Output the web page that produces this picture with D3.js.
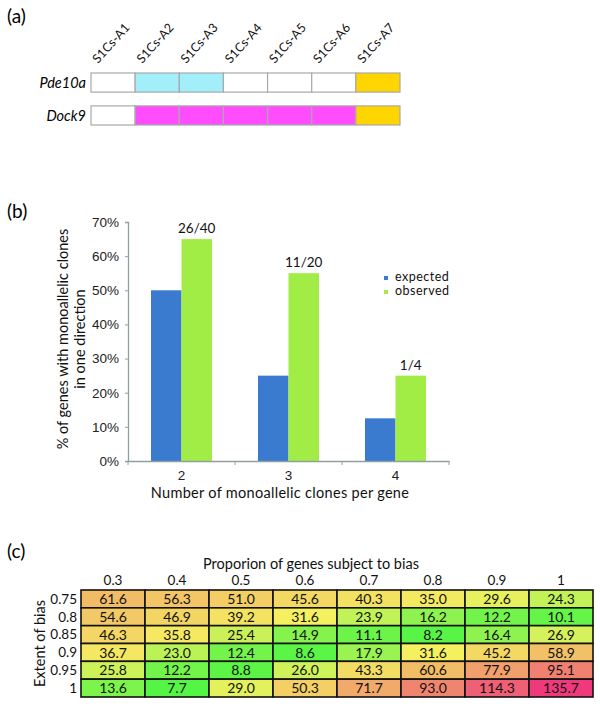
<!DOCTYPE html>
<html><head><meta charset="utf-8">
<script src="https://cdn.jsdelivr.net/npm/d3@7/dist/d3.min.js"></script>
<style>
html,body{margin:0;padding:0;background:#fff;}
svg{display:block;font-family:Lato,"Open Sans",sans-serif;}
</style></head><body>
<svg id="c" width="600" height="706"></svg>
<script>
// ---------- Panel (a) data ----------
const clones = ["S1Cs-A1","S1Cs-A2","S1Cs-A3","S1Cs-A4","S1Cs-A5","S1Cs-A6","S1Cs-A7"];
const genes = ["Pde10a","Dock9"];
const pde10aStates = ["none","cyan","cyan","none","none","none","gold"];
const dock9States  = ["none","magenta","magenta","magenta","magenta","magenta","gold"];
// ---------- Panel (b) data ----------
const cloneCounts = ["2","3","4"];
const seriesNames = ["expected","observed"];
const expectedVals = [0.50,0.25,0.125];
const observedVals = [0.65,0.55,0.25];
const observedLabels = ["26/40","11/20","1/4"];
const yTicks = [0,0.1,0.2,0.3,0.4,0.5,0.6,0.7];
// ---------- Panel (c) data ----------
const proportions = ["0.3","0.4","0.5","0.6","0.7","0.8","0.9","1"];
const extents = ["0.75","0.8","0.85","0.9","0.95","1"];
const heatValues = [
  [61.6,56.3,51.0,45.6,40.3,35.0,29.6,24.3],
  [54.6,46.9,39.2,31.6,23.9,16.2,12.2,10.1],
  [46.3,35.8,25.4,14.9,11.1,8.2,16.4,26.9],
  [36.7,23.0,12.4,8.6,17.9,31.6,45.2,58.9],
  [25.8,12.2,8.8,26.0,43.3,60.6,77.9,95.1],
  [13.6,7.7,29.0,50.3,71.7,93.0,114.3,135.7]
];

const svg = d3.select("#c");
const stateColor = {none:"#ffffff", cyan:"#a2eef9", magenta:"#ff4cff", gold:"#ffd500"};

// ===== Panel (a) =====
svg.append("text").attr("x",7).attr("y",23).attr("font-size",19).text("(a)");
const ax = d3.scaleBand().domain(clones).range([91,400]);
const ay = d3.scaleBand().domain(genes).range([73,125]).paddingInner(0.42);
const stateRows = [pde10aStates, dock9States];
genes.forEach((g,gi)=>{
  const grp = svg.append("g");
  grp.selectAll("rect").data(stateRows[gi]).join("rect")
    .attr("x",(d,i)=>ax(clones[i])).attr("y",ay(g))
    .attr("width",ax.bandwidth()).attr("height",ay.bandwidth())
    .attr("fill",d=>stateColor[d]).attr("stroke","#a9a9a9").attr("stroke-width",1.2);
  svg.append("text").attr("x",86).attr("y",ay(g)+ay.bandwidth()/2)
    .attr("dy","0.36em").attr("text-anchor","end").attr("font-style","italic")
    .attr("font-size",14.5).text(g);
});
svg.append("g").selectAll("text").data(clones).join("text")
  .attr("transform",d=>`translate(${ax(d)+ax.bandwidth()/2-15},64) rotate(-48)`)
  .attr("font-size",12.5).attr("fill","#111").text(d=>d);

// ===== Panel (b) =====
svg.append("text").attr("x",7).attr("y",218).attr("font-size",19).text("(b)");
const y = d3.scaleLinear().domain([0,0.7]).range([461,222]);
const x0 = d3.scaleBand().domain(cloneCounts).range([128,449]);
const x1 = d3.scaleBand().domain(seriesNames).range([x0.bandwidth()*0.215, x0.bandwidth()*0.785]);
const axisCol = "#8fa0a0";
const seriesColor = {expected:"#3a7bd0", observed:"#a2ec46"};

const yAxis = svg.append("g").attr("transform","translate(128,0)")
  .call(d3.axisLeft(y).tickValues(yTicks).tickFormat(d3.format(".0%")).tickSize(3).tickPadding(6));
yAxis.select(".domain").attr("stroke",axisCol).attr("stroke-width",1.3);
yAxis.selectAll(".tick line").attr("stroke",axisCol);
yAxis.selectAll("text").attr("font-size",13.5).attr("fill","#222").attr("font-family","inherit");

const groups = svg.append("g").selectAll("g").data(cloneCounts).join("g")
  .attr("transform",d=>`translate(${x0(d)},0)`);
groups.selectAll("rect").data((d,i)=>[
    {s:"expected",v:expectedVals[i]},{s:"observed",v:observedVals[i]}])
  .join("rect")
  .attr("x",d=>x1(d.s)).attr("width",x1.bandwidth())
  .attr("y",d=>y(d.v)).attr("height",d=>y(0)-y(d.v))
  .attr("fill",d=>seriesColor[d.s]);
groups.append("text")
  .attr("x",x1("observed")+x1.bandwidth()/2)
  .attr("y",(d,i)=>y(observedVals[i])-6)
  .attr("text-anchor","middle").attr("font-size",13.5).attr("fill","#111")
  .text((d,i)=>observedLabels[i]);

const xAxis = svg.append("g").attr("transform",`translate(0,${y(0)})`)
  .call(d3.axisBottom(x0).tickSize(0).tickPadding(9));
xAxis.select(".domain").attr("stroke",axisCol).attr("stroke-width",1.3);
xAxis.selectAll("text").attr("font-size",13.5).attr("fill","#222").attr("font-family","inherit");
// category boundary ticks
svg.append("g").selectAll("line").data(cloneCounts.concat(["end"])).join("line")
  .attr("x1",(d,i)=> i<cloneCounts.length ? x0(d) : x0(cloneCounts[cloneCounts.length-1])+x0.bandwidth())
  .attr("x2",(d,i)=> i<cloneCounts.length ? x0(d) : x0(cloneCounts[cloneCounts.length-1])+x0.bandwidth())
  .attr("y1",y(0)).attr("y2",y(0)+4).attr("stroke",axisCol);

svg.append("text").attr("x",280).attr("y",498).attr("text-anchor","middle")
  .attr("font-size",14.5).attr("fill","#111").attr("letter-spacing",0.3)
  .text("Number of monoallelic clones per gene");
const yt = svg.append("text").attr("transform","translate(0,339) rotate(-90)")
  .attr("text-anchor","middle").attr("font-size",14.5).attr("fill","#111");
yt.append("tspan").attr("x",0).attr("y",68).text("% of genes with monoallelic clones");
yt.append("tspan").attr("x",0).attr("y",85).text("in one direction");

// legend
const lg = svg.append("g").selectAll("g").data(seriesNames).join("g")
  .attr("transform",(d,i)=>`translate(384,${277+i*14})`);
lg.append("rect").attr("x",0).attr("y",-1).attr("width",4).attr("height",4).attr("fill",d=>seriesColor[d]);
lg.append("text").attr("x",11).attr("y",0).attr("dy","0.35em").attr("font-size",12.5)
  .attr("fill","#111").attr("letter-spacing",0.5).text(d=>d);

// ===== Panel (c) =====
svg.append("text").attr("x",7).attr("y",558).attr("font-size",19).text("(c)");
const hx = d3.scaleBand().domain(proportions).range([81,593]);
const hy = d3.scaleBand().domain(extents).range([590,697]);
const flat = heatValues.flat();
const color = d3.scaleLinear()
  .domain([d3.min(flat), d3.median(flat), d3.max(flat)])
  .range(["#55f545","#f4f060","#ee3a7a"]);
const cells = [];
extents.forEach((e,r)=>proportions.forEach((p,c)=>cells.push({e,p,v:heatValues[r][c]})));
const cg = svg.append("g").selectAll("g").data(cells).join("g");
cg.append("rect").attr("x",d=>hx(d.p)).attr("y",d=>hy(d.e))
  .attr("width",hx.bandwidth()).attr("height",hy.bandwidth())
  .attr("fill",d=>color(d.v)).attr("stroke","#111").attr("stroke-width",1.6);
cg.append("text").attr("x",d=>hx(d.p)+hx.bandwidth()/2).attr("y",d=>hy(d.e)+hy.bandwidth()/2)
  .attr("dy","0.37em").attr("text-anchor","middle").attr("font-size",14).attr("fill","#111")
  .text(d=>d.v.toFixed(1));
svg.append("g").selectAll("text").data(proportions).join("text")
  .attr("x",d=>hx(d)+hx.bandwidth()/2).attr("y",585).attr("text-anchor","middle")
  .attr("font-size",13.5).attr("fill","#111").text(d=>d);
svg.append("g").selectAll("text").data(extents).join("text")
  .attr("x",77).attr("y",d=>hy(d)+hy.bandwidth()/2).attr("dy","0.36em").attr("text-anchor","end")
  .attr("font-size",13.5).attr("fill","#111").text(d=>d);
svg.append("text").attr("x",311).attr("y",569).attr("text-anchor","middle")
  .attr("font-size",14.5).attr("fill","#111").text("Proporion of genes subject to bias");
svg.append("text").attr("transform",`translate(45,${(590+697)/2}) rotate(-90)`)
  .attr("text-anchor","middle").attr("font-size",14.5).attr("fill","#111").text("Extent of bias");
</script></body></html>
